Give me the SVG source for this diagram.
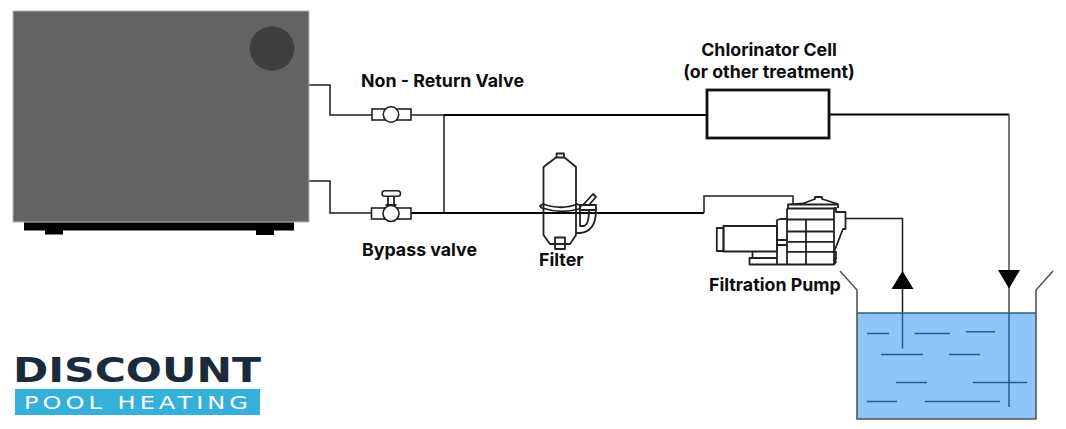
<svg xmlns="http://www.w3.org/2000/svg" width="1066" height="429" viewBox="0 0 1066 429">
<style>
text{font-family:Inter,"Liberation Sans",sans-serif;font-weight:700;font-size:17.800px;fill:#0d0d0d}
.p{fill:none;stroke:#1c1c1c;stroke-width:1.500}
.t{fill:none;stroke:#000;stroke-width:2.200}
.e{fill:#fff;stroke:#222;stroke-width:1.600}
.o{fill:none;stroke:#222;stroke-width:1.800;stroke-linejoin:round}
.d{fill:none;stroke:#1f5e92;stroke-width:1.500}
.w{fill:none;stroke:#555;stroke-width:1.600}
</style>
<g id="connectors">
<path class="p" d="M309 85H330V115H372"/>
<path class="p" d="M309 181H330V213H372"/>
<path class="p" d="M411 115H444V213"/>
<path class="t" d="M444 115H707"/>
<path class="t" d="M411 213H704"/>
<path class="p" d="M704 213V196H793V204"/>
<path class="t" d="M829 114.500H1009"/>
<path class="w" d="M1009 114V313"/>
<path class="p" d="M846 218.500H902.500V313"/>
</g>
<g id="heat-pump">
<rect x="13" y="11" width="296" height="211" fill="#636363" stroke="#b5b5b5" stroke-width="1"/>
<circle cx="272" cy="48.500" r="22.300" fill="#3f3f3f"/>
<rect x="24" y="222.500" width="270" height="8" fill="#000"/>
<rect x="45" y="230" width="18" height="4.500" fill="#000"/>
<rect x="256" y="230" width="18" height="5" fill="#000"/>
</g>
<g id="non-return-valve">
<rect class="e" x="372" y="109" width="39" height="11"/>
<circle class="e" cx="391" cy="114.500" r="7.700"/>
<text x="361" y="87">Non - Return Valve</text>
</g>
<g id="bypass-valve">
<rect class="e" x="371.500" y="208" width="39.500" height="11"/>
<path class="o" d="M388 196V205M394 196V205M385.500 205H396.500"/>
<rect class="e" x="382" y="190.800" width="18.500" height="5.400" rx="2.700"/>
<circle class="e" cx="391" cy="213.500" r="8"/>
<text x="362" y="255.500">Bypass valve</text>
</g>
<g id="chlorinator-cell">
<rect x="707" y="90" width="122" height="48" fill="#fff" stroke="#111" stroke-width="2.800"/>
<text x="769" y="56" text-anchor="middle">Chlorinator Cell</text>
<text x="769" y="78" text-anchor="middle">(or other treatment)</text>
</g>
<g id="filter">
<path class="o" d="M556.500 157V153.500H564V157M556 157.500H564.500L576 167V235L570 244H550L543.500 235V167Z" stroke-width="1.300"/>
<path class="o" d="M555 244V237.500H565V249H555Z"/>
<path class="o" d="M543 204C555 208 568 208 577 204L581 206L579 209C568 212 554 212 542 208L540 206Z"/>
<path class="o" d="M580 205H596V210H580ZM583 205L593 194L596 197L589 205M580 210V226H584C587 225 589 220 589 210M596 210C596 222 592 232 580 233H576"/>
<text x="539" y="265.500">Filter</text>
</g>
<g id="filtration-pump">
<rect class="o" x="723.500" y="226" width="53.500" height="25.500" fill="#fff"/>
<rect class="o" x="716.800" y="228" width="6.700" height="23" fill="#fff"/>
<path class="o" d="M752.500 251.500V258M749.500 258H777V264.500H749.500ZM777 220V264.500M776 220.500L780 219H787M777 240H787M777 245H787"/>
<path class="o" d="M787 208.500H834V264.500H777M787 208.500V264.500M787 219.500H834M787 231.500H834M787 241.800H834M787 251.800H834M806 219.500V264.500"/>
<path class="o" d="M788 208V204.500L803 203.500L815 199V197H822V199L838 204V208M788 204.500H838"/>
<path class="o" d="M834 208H836V212H845.500V229H843L834 252M834 252H836V259H834.500L836 262L834 264.500"/>
<text x="709" y="291">Filtration Pump</text>
</g>
<g id="pool">
<rect x="857" y="313" width="179" height="106" fill="#90c6f7"/>
<path class="w" d="M840 271L857 290V419H1036V290L1053 271"/>
<path d="M857 313H1036" stroke="#2c5c82" stroke-width="1.500"/>
<path class="d" d="M902.500 313V348.500M1009 313V407"/>
<path class="d" d="M867 333.500H889M914.500 333.500H950M966 331.700H995M881 354.500H923M949 354.500H980M896 382.500H927M973 382.500H1027M866.700 401.500H897M925 401.500H1000"/>
<path d="M902.500 271L913.500 289H891.500Z" fill="#000"/>
<path d="M998 270H1020L1009 288.500Z" fill="#000"/>
</g>
<g id="logo">
<text x="13" y="382" textLength="248" lengthAdjust="spacingAndGlyphs" style="font-family:'DejaVu Sans',sans-serif;font-weight:700;font-size:34px;fill:#1a2b3c">DISCOUNT</text>
<rect x="15" y="389" width="245" height="26" fill="#35b0da"/>
<text x="24" y="409" textLength="228" lengthAdjust="spacingAndGlyphs" style="font-family:'DejaVu Sans',sans-serif;font-weight:400;font-size:18px;letter-spacing:3px;fill:#fff">POOL HEATING</text>
</g>
</svg>
